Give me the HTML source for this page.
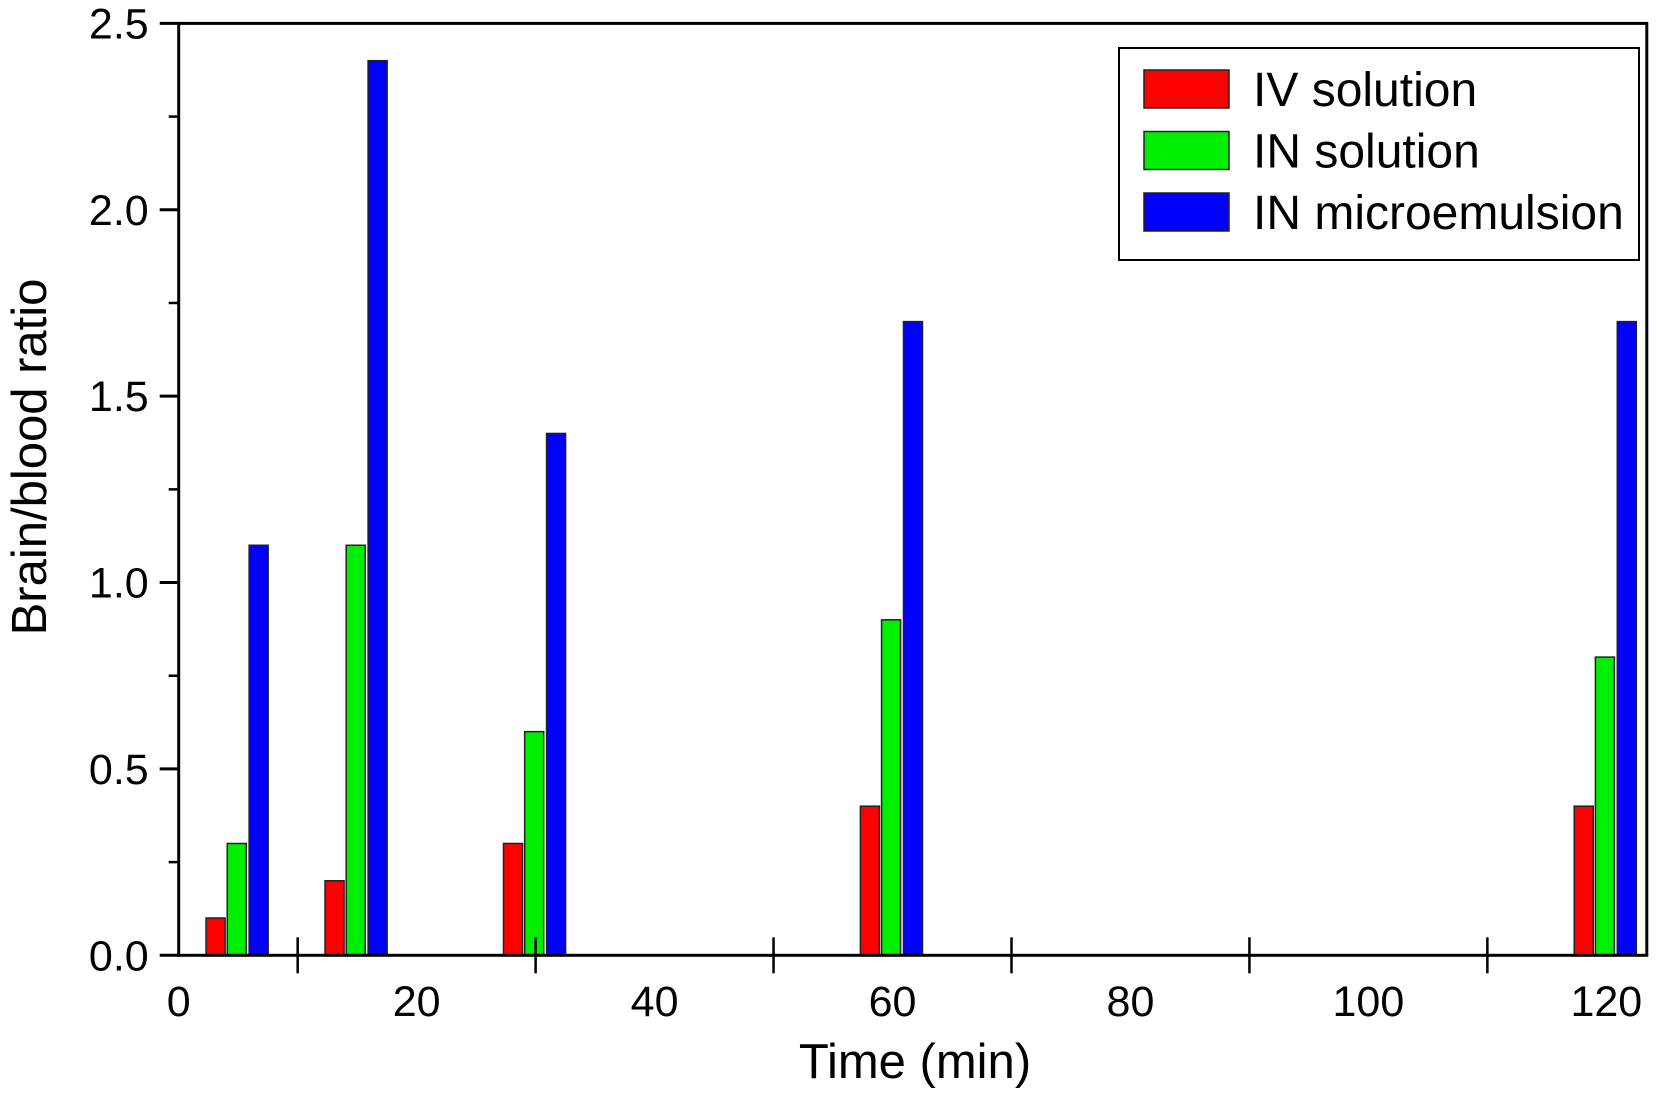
<!DOCTYPE html>
<html><head><meta charset="utf-8"><style>
html,body{margin:0;padding:0;background:#fff;}
svg{display:block;font-family:"Liberation Sans",Arial,sans-serif;}
</style></head><body>
<svg id="chart" width="1668" height="1102" viewBox="0 0 1668 1102"></svg>
<script>
const times=[5,15,30,60,120];
const ivSolution=[0.1,0.2,0.3,0.4,0.4];
const inSolution=[0.3,1.1,0.6,0.9,0.8];
const inMicroemulsion=[1.1,2.4,1.4,1.7,1.7];
const yTicks=[0,0.5,1.0,1.5,2.0,2.5];
const yTickLabels=["0.0","0.5","1.0","1.5","2.0","2.5"];
const xTicks=[0,20,40,60,80,100,120];
const xTickLabels=["0","20","40","60","80","100","120"];
const xMinorTicks=[10,30,50,70,90,110];
const yMinorTicks=[0.25,0.75,1.25,1.75,2.25];

const NS="http://www.w3.org/2000/svg";
const svg=document.getElementById('chart');
const L=178.7,R=1646.8,T=23.4,B=955.3;
const xs=v=>L+v*11.897;
const ys=v=>B-v*(B-T)/2.5;
function el(tag,attrs,parent){const e=document.createElementNS(NS,tag);for(const k in attrs)e.setAttribute(k,attrs[k]);(parent||svg).appendChild(e);return e;}

const series=[{vals:ivSolution,color:"#ff0000",off:-1.9,name:"iv-solution"},{vals:inSolution,color:"#00ee00",off:-0.12,name:"in-solution"},{vals:inMicroemulsion,color:"#0000ff",off:1.72,name:"in-microemulsion"}];
const bw=1.6*11.897;
series.forEach(s=>{
  s.vals.forEach((v,i)=>{
    const cx=xs(times[i]+s.off);
    const r=el('rect',{x:cx-bw/2,y:ys(v),width:bw,height:ys(0)-ys(v),fill:s.color,stroke:'#222','stroke-width':1.5});
    
    
  });
});

const f=el('rect',{x:L,y:T,width:R-L,height:B-T,fill:'none',stroke:'#000','stroke-width':3});



yTicks.forEach((v,i)=>{
  const t=el('line',{x1:L-19,x2:L,y1:ys(v),y2:ys(v),stroke:'#000','stroke-width':3});
  
  
  const tx=el('text',{x:L-30,y:ys(v)+15,'font-size':43,'text-anchor':'end',fill:'#000'});
  tx.textContent=yTickLabels[i];
  
  
});
yMinorTicks.forEach(v=>{
  const t=el('line',{x1:L-10,x2:L,y1:ys(v),y2:ys(v),stroke:'#000','stroke-width':2.5});
  
  
});
xMinorTicks.forEach(v=>{
  const t=el('line',{x1:xs(v),x2:xs(v),y1:B-18,y2:B+18,stroke:'#000','stroke-width':2.5});
  
  
});
xTicks.forEach((v,i)=>{
  const tx=el('text',{x:xs(v),y:1016,'font-size':43,'text-anchor':'middle',fill:'#000'});
  tx.textContent=xTickLabels[i];
  
  
});
const xt=el('text',{x:915,y:1078,'font-size':49,'text-anchor':'middle',fill:'#000'});
xt.textContent='Time (min)';


const yt=el('text',{x:0,y:0,'font-size':49,'text-anchor':'middle',fill:'#000',transform:'translate(46,457) rotate(-90)'});
yt.textContent='Brain/blood ratio';



const lg=el('g',{});


el('rect',{x:1119,y:48,width:520,height:212,fill:'#fff',stroke:'#000','stroke-width':2},lg);
const labels=['IV solution','IN solution','IN microemulsion'];
series.forEach((s,i)=>{
  const y0=70+i*61.5;
  const sw=el('rect',{x:1144,y:y0,width:85,height:38,fill:s.color,stroke:'#222','stroke-width':1.5},lg);
  
  
  const t=el('text',{x:1253,y:y0+36,'font-size':48,fill:'#000'},lg);
  t.textContent=labels[i];
  
  
});
</script>
</body></html>
